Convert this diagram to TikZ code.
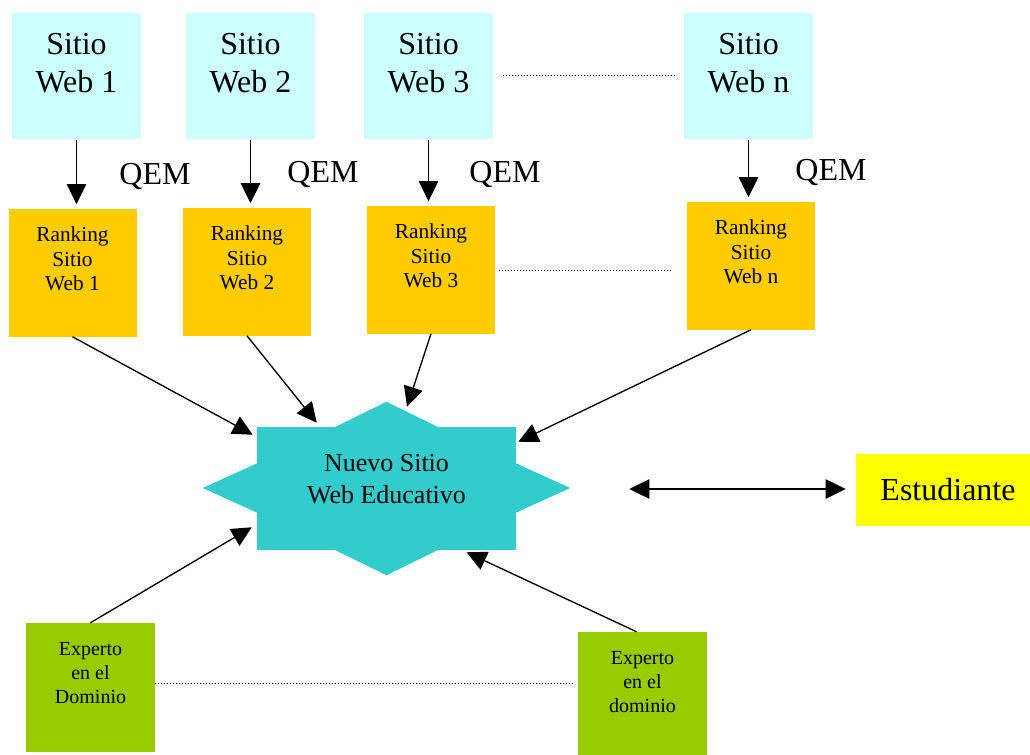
\documentclass[tikz,border=0pt]{standalone}
\usepackage{fontspec}
\setmainfont{Liberation Serif}
\usepackage{tikz}
\usetikzlibrary{%
  positioning,%
  calc,%
  arrows.meta%
}
\definecolor{sitiocyan}{HTML}{CCFFFF}
\definecolor{rankamber}{HTML}{FFCC00}
\definecolor{nuevoturq}{HTML}{33CCCC}
\definecolor{expertgreen}{HTML}{99CC00}
\definecolor{estyellow}{HTML}{FFFF00}
\newcommand{\tip}{Triangle[length=15pt,width=14.5pt]}

\begin{document}
\begin{tikzpicture}[x=0.75pt, y=-0.75pt,
  sitio/.style={fill=sitiocyan, inner sep=0pt, font=\fontsize{24}{28.5}\selectfont,
    execute at begin node={\begin{minipage}[c][94.5pt][t]{96.75pt}\centering\rule{0pt}{30.75pt}},
    execute at end node={\end{minipage}}},
  rank/.style={fill=rankamber, inner sep=0pt, font=\fontsize{16}{18.4}\selectfont,
    execute at begin node={\begin{minipage}[c][95.25pt][t]{96pt}\centering\rule{0pt}{24pt}},
    execute at end node={\end{minipage}}},
  experto/.style={fill=expertgreen, inner sep=0pt, font=\fontsize{15}{18}\selectfont,
    execute at begin node={\begin{minipage}[c][96.75pt][t]{96.75pt}\centering\rule{0pt}{24pt}},
    execute at end node={\end{minipage}}},
  nuevo/.style={fill=nuevoturq, inner sep=0pt, font=\fontsize{19.5}{24}\selectfont,
    execute at begin node={\begin{minipage}[c][92.25pt][t]{194.25pt}\centering\rule{0pt}{33pt}},
    execute at end node={\end{minipage}}},
  est/.style={fill=estyellow, inner sep=0pt, minimum width=138pt, minimum height=54pt,
    font=\fontsize{24}{28}\selectfont},
  qem/.style={anchor=base, inner sep=0pt, font=\fontsize{24}{28}\selectfont},
  flecha/.style={-{\tip}, line width=1pt},
  flechas/.style={{\tip}-{\tip}, line width=1pt},
  puntos/.style={line width=0.6pt, dash pattern=on 0.75pt off 1.5pt}]
\useasboundingbox (0,0) rectangle (1030,755);

\node[sitio] (s1) at (76.5,76.5) {Sitio\\Web 1};
\node[sitio] (s2) at (250.5,76.5) {Sitio\\Web 2};
\node[sitio] (s3) at (428.5,76.5) {Sitio\\Web 3};
\node[sitio] (sn) at (748.5,76.5) {Sitio\\Web n};

\node[rank] (r1) at (72.5,273) {Ranking\\Sitio\\Web 1};
\node[rank] (r2) at (247,272) {Ranking\\Sitio\\Web 2};
\node[rank] (r3) at (431,270) {Ranking\\Sitio\\Web 3};
\node[rank] (rn) at (751,266) {Ranking\\Sitio\\Web n};

\node[qem] (q1) at (155,185) {QEM};
\node[qem] (q2) at (323,183) {QEM};
\node[qem] (q3) at (505,183) {QEM};
\node[qem] (qn) at (831,181) {QEM};

\node[nuevo] (nuevo) at (386.5,488.5) {Nuevo Sitio\\Web Educativo};
\fill[nuevoturq]
  ($(nuevo.north)+(-53,1)$) -- ++(53,-26) -- ++(53,26) -- cycle
  ($(nuevo.south)+(-53,-1)$) -- ++(53,26) -- ++(53,-26) -- cycle
  ($(nuevo.west)+(1,-25.5)$) -- ++(-55,25) -- ++(55,25) -- cycle
  ($(nuevo.east)+(-1,-25.5)$) -- ++(55,25) -- ++(-55,25) -- cycle;

\node[est] (est) at (948,490) {Estudiante};

\node[experto] (e1) at (90.5,687.5) {Experto\\en el\\Dominio};
\node[experto] (e2) at (642.5,696.5) {Experto\\en el\\dominio};

% sitios -> ranking
\draw
	(s1.south) edge[flecha, shorten >=3.75pt] (s1.south |- r1.north)
	(s2.south) edge[flecha, shorten >=3.75pt] (s2.south |- r2.north)
	(s3.south) edge[flecha, shorten >=3.75pt] (s3.south |- r3.north)
	(sn.south) edge[flecha, shorten >=3.75pt] (sn.south |- rn.north)
;

% ranking y expertos -> nuevo sitio
\draw
	(r1.south) edge[flecha] ($(nuevo.north west)+(-4,8)$)
	(r2.south) edge[flecha] ($(nuevo.north west)+(60,-4)$)
	(r3.south) edge[flecha] ($(nuevo.north)+(20.5,-20)$)
	(rn.south) edge[flecha] ($(nuevo.north east)+(2,15)$)
	(e1.north) edge[flecha] ($(nuevo.south west)+(-5,-23)$)
	($(e2.north)+(-6,0)$) edge[flecha] ($(nuevo.south)+(80,2)$)
;

\draw[flechas] ($(nuevo.east)+(113,0.5)$) -- ($(est.west)+(-10,-1)$);

% puntos suspensivos
\draw[puntos] ($(s3.east)+(10,-1.5)$) -- ($(sn.west)+(-7,-1.5)$);
\draw[puntos] ($(r3.east)+(4,0)$) -- ($(r3.east -| rn.west)+(-14,0)$);
\draw[puntos] ($(e1.east)+(0,-4.5)$) -- ($(e1.east -| e2.west)+(-3,-4.5)$);
\end{tikzpicture}
\end{document}
